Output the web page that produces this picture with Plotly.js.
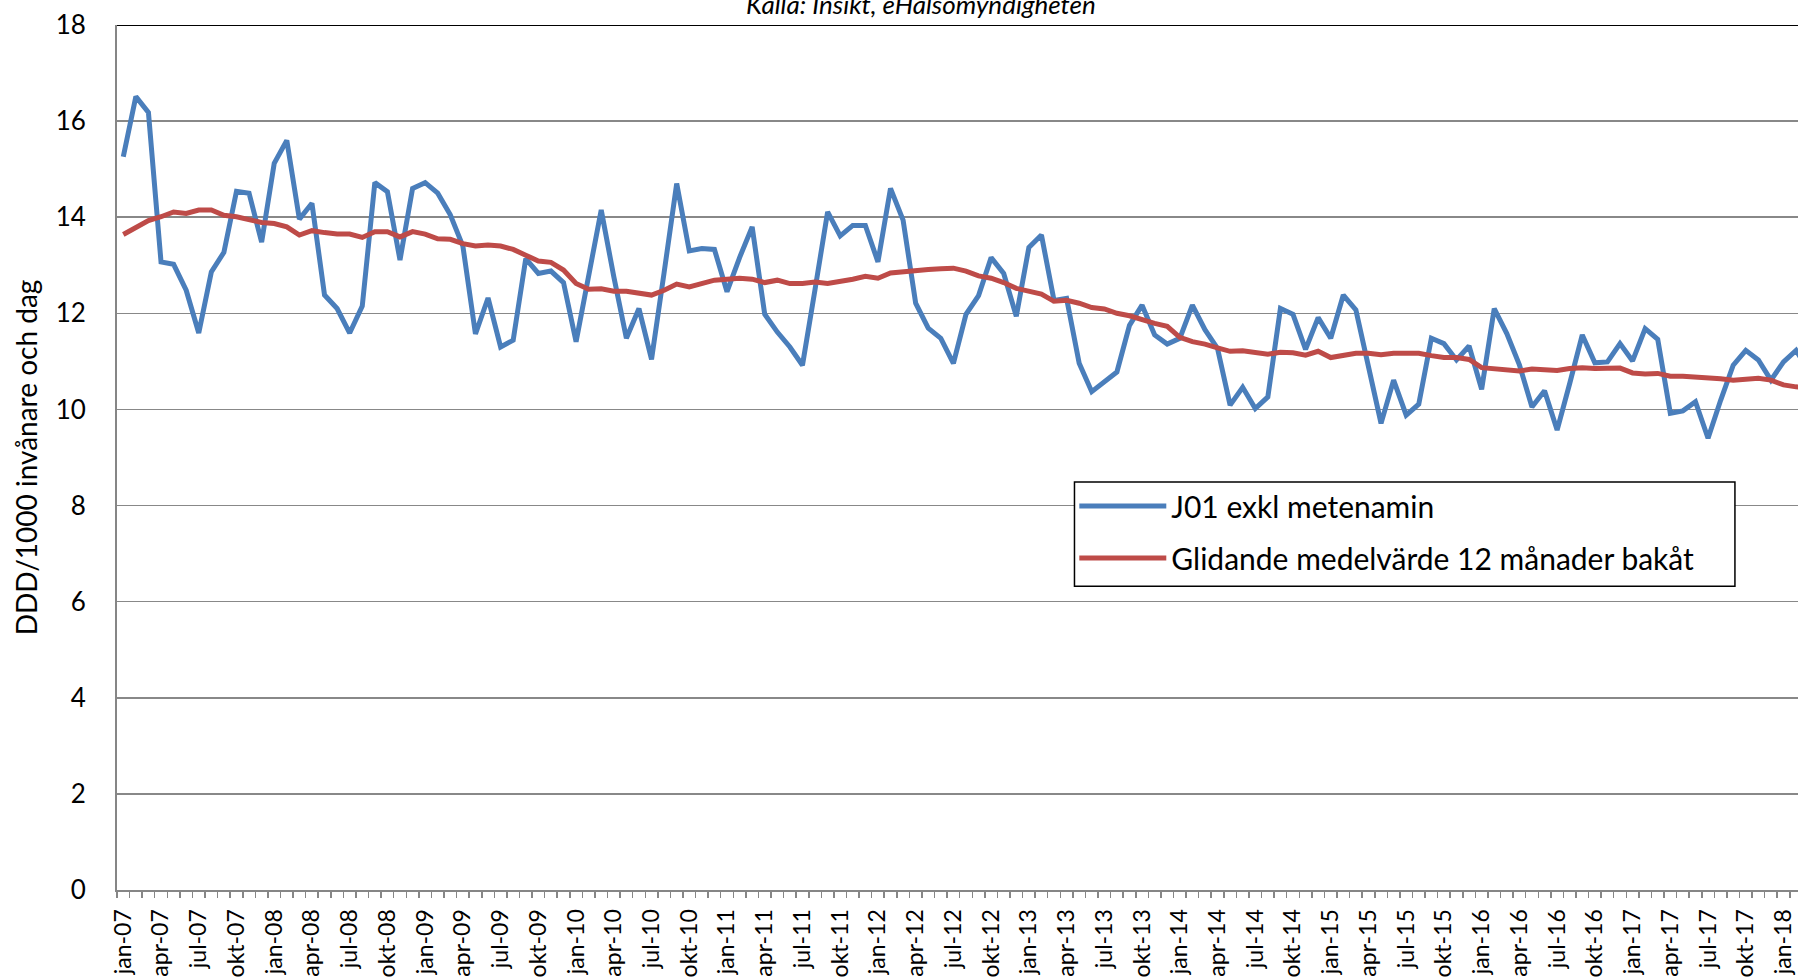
<!DOCTYPE html>
<html>
<head>
<meta charset="utf-8">
<script src="https://cdn.plot.ly/plotly-3.0.1.min.js"></script>
<style>
  html, body { margin: 0; padding: 0; background: #ffffff; overflow: hidden; width: 1798px; height: 978px; }
  #chart { width: 1904px; height: 978px; }
</style>
</head>
<body>
<div id="chart"></div>
<script>
// Month names (Swedish abbreviations) and first year of the series
const monthNames = ['jan','feb','mar','apr','maj','jun','jul','aug','sep','okt','nov','dec'];
const startYear = 7; // 2007

// J01 exkl metenamin, DDD/1000 invånare och dag, monthly from jan-07
const j01Values = [
  15.26, 16.51, 16.18, 13.07, 13.02, 12.48, 11.59, 12.86, 13.27, 14.54, 14.50, 13.48,
  15.12, 15.60, 13.96, 14.29, 12.38, 12.10, 11.59, 12.15, 14.72, 14.53, 13.11, 14.60,
  14.72, 14.50, 14.05, 13.40, 11.57, 12.32, 11.30, 11.44, 13.14, 12.83, 12.88, 12.64,
  11.41, 12.85, 14.15, 12.76, 11.48, 12.10, 11.04, 12.85, 14.70, 13.30, 13.35, 13.33,
  12.45, 13.16, 13.80, 11.98, 11.61, 11.30, 10.92, 12.50, 14.11, 13.61, 13.83, 13.83,
  13.07, 14.60, 13.94, 12.21, 11.69, 11.48, 10.96, 11.98, 12.37, 13.16, 12.83, 11.94,
  13.37, 13.63, 12.27, 12.31, 10.96, 10.37, 10.57, 10.78, 11.75, 12.17, 11.55, 11.36,
  11.48, 12.17, 11.66, 11.27, 10.09, 10.46, 10.02, 10.26, 12.10, 11.98, 11.25, 11.91,
  11.48, 12.38, 12.07, 10.90, 9.71, 10.61, 9.88, 10.11, 11.48, 11.37, 11.03, 11.32,
  10.42, 12.10, 11.58, 10.93, 10.05, 10.39, 9.57, 10.54, 11.55, 10.97, 10.99, 11.37,
  11.01, 11.68, 11.46, 9.92, 9.97, 10.16, 9.40, 10.19, 10.92, 11.23, 11.03, 10.61,
  10.99, 11.23, 10.80
];

// Glidande medelvärde 12 månader bakåt
const movingAvgValues = [
  13.64, 13.78, 13.93, 14.01, 14.11, 14.08, 14.15, 14.15, 14.04, 14.01, 13.95, 13.89,
  13.87, 13.80, 13.63, 13.72, 13.68, 13.65, 13.65, 13.58, 13.70, 13.70, 13.59, 13.70,
  13.65, 13.55, 13.54, 13.45, 13.40, 13.42, 13.40, 13.33, 13.21, 13.09, 13.06, 12.90,
  12.62, 12.50, 12.51, 12.46, 12.46, 12.43, 12.38, 12.48, 12.61, 12.55, 12.61, 12.69,
  12.71, 12.73, 12.71, 12.64, 12.69, 12.62, 12.62, 12.65, 12.62, 12.66, 12.71, 12.77,
  12.73, 12.84, 12.87, 12.90, 12.91, 12.93, 12.94, 12.88, 12.78, 12.73, 12.64, 12.52,
  12.46, 12.40, 12.25, 12.27, 12.21, 12.12, 12.09, 12.00, 11.95, 11.86, 11.79, 11.73,
  11.50, 11.41, 11.36, 11.28, 11.21, 11.22, 11.18, 11.15, 11.19, 11.18, 11.13, 11.21,
  11.08, 11.12, 11.17, 11.17, 11.14, 11.17, 11.17, 11.17, 11.12, 11.08, 11.08, 11.04,
  10.87, 10.85, 10.82, 10.80, 10.84, 10.83, 10.81, 10.85, 10.87, 10.85, 10.85, 10.86,
  10.76, 10.74, 10.75, 10.69, 10.69, 10.68, 10.67, 10.64, 10.61, 10.64, 10.65, 10.61,
  10.51, 10.47, 10.45
];

const seriesNames = ['J01 exkl metenamin', 'Glidande medelvärde 12 månader bakåt'];
const axisMonths = 142; // number of month slots on the category axis

// Category labels
const monthLabels = [];
for (let i = 0; i < axisMonths; i++) {
  const yr = startYear + Math.floor(i / 12);
  monthLabels.push(monthNames[i % 12] + '-' + String(yr).padStart(2, '0'));
}
const xIdx = j01Values.map((_, i) => i);
const tickVals = [];
const tickText = [];
for (let i = 0; i < axisMonths; i += 3) { tickVals.push(i); tickText.push(monthLabels[i]); }

const FONT = 'Lato, "Open Sans", sans-serif';
const gridCol = '#888888';

const traces = [
  {
    x: xIdx, y: j01Values, name: seriesNames[0], type: 'scatter', mode: 'lines',
    line: { color: '#4A7EBB', width: 5 }, legendgroup: 'a',
    text: j01Values.map((_, i) => monthLabels[i]), hoverinfo: 'text+y'
  },
  {
    x: xIdx, y: movingAvgValues, name: seriesNames[1], type: 'scatter', mode: 'lines',
    line: { color: '#BE4B48', width: 5 }, legendgroup: 'b',
    text: movingAvgValues.map((_, i) => monthLabels[i]), hoverinfo: 'text+y'
  }
];

const layout = {
  width: 1904, height: 978,
  margin: { l: 117, r: 1, t: 25, b: 88, pad: 0 },
  paper_bgcolor: '#ffffff', plot_bgcolor: '#ffffff',
  font: { family: FONT, color: '#000000' },
  showlegend: true,
  legend: {
    x: 0.536, y: 0.474, xanchor: 'left', yanchor: 'top',
    bgcolor: 'rgba(0,0,0,0)', borderwidth: 0,
    font: { family: FONT, size: 30, color: '#000000' },
    tracegroupgap: 10, itemwidth: 87
  },
  xaxis: {
    range: [-0.5, axisMonths - 0.5],
    tickmode: 'array', tickvals: tickVals, ticktext: tickText,
    tickangle: -90, ticks: '', showgrid: false, zeroline: false,
    tickfont: { family: FONT, size: 23, color: '#000000' },
    showline: true, linecolor: '#868686', linewidth: 2,
    minor: { tick0: -0.5, dtick: 1, ticks: 'outside', ticklen: 6, tickwidth: 1.5, tickcolor: '#868686', showgrid: false },
    ticklabelstandoff: 8,
    fixedrange: true
  },
  yaxis: {
    range: [0, 18], dtick: 2, tick0: 0,
    showgrid: true, gridcolor: gridCol, gridwidth: 1.6,
    zeroline: false, ticks: '',
    showline: true, linecolor: '#868686', linewidth: 2,
    tickfont: { family: FONT, size: 26, color: '#000000' },
    ticklabelstandoff: 24,
    title: { text: 'DDD/1000 invånare och dag', font: { family: FONT, size: 28, color: '#000000' }, standoff: 10 },
    fixedrange: true
  },
  shapes: [
    { type: 'line', xref: 'paper', yref: 'y', x0: 0, x1: 1, y0: 18, y1: 18, line: { color: '#000000', width: 2 }, layer: 'above' },
    // legend frame (white box with black border behind the legend entries)
    { type: 'rect', xref: 'paper', yref: 'y', x0: 0.5361, x1: 0.9059, y0: 6.32, y1: 8.49,
      fillcolor: '#ffffff', line: { color: '#000000', width: 1.5 }, layer: 'above' }
  ],
  annotations: [
    { text: '<i>Källa: Insikt, eHälsomyndigheten</i>', xref: 'paper', yref: 'paper', x: 0.450, y: 1.024,
      xanchor: 'center', yanchor: 'middle', showarrow: false,
      font: { family: FONT, size: 26, color: '#000000' } }
  ]
};

Plotly.newPlot('chart', traces, layout, { staticPlot: true, displayModeBar: false });
</script>
</body>
</html>
